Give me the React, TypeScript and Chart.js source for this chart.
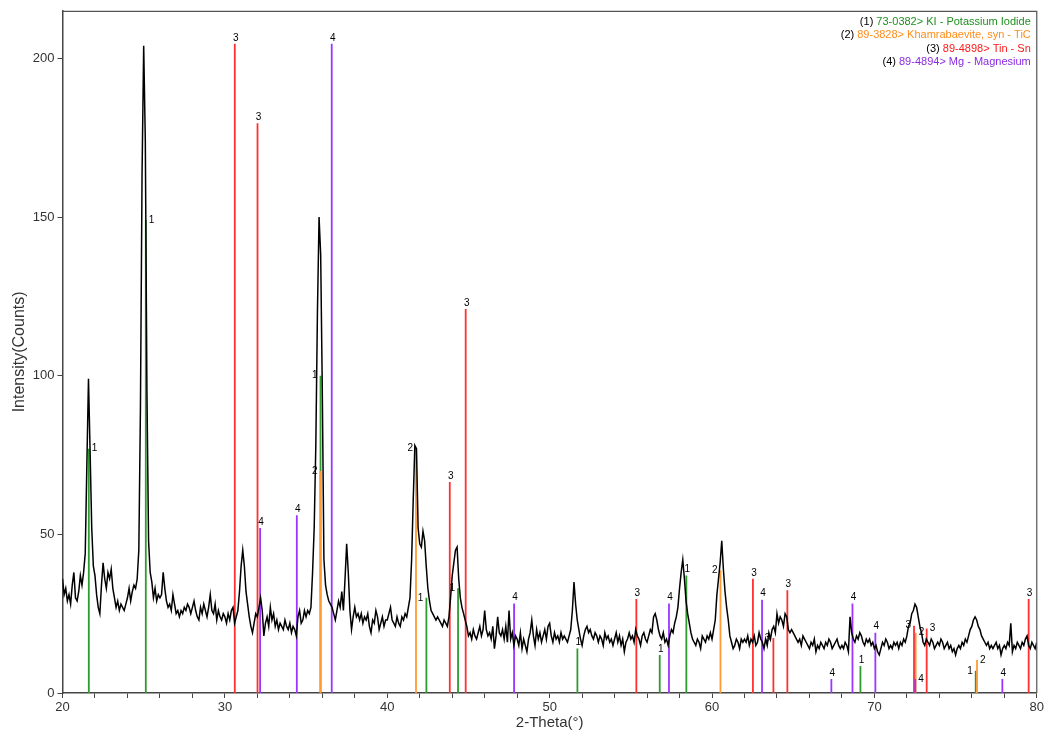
import React, { useEffect, useRef } from "react";
import { Chart, registerables } from "chart.js";

Chart.register(...registerables);

// ---- Diffraction profile (2-Theta from 20 to 80, step 0.1) ----
const startAngle = 20;
const stepAngle = 0.1;
const intensity: number[] = [
  36, 31, 33, 29, 31, 28, 34, 38, 30, 29,
  32, 37, 34, 38, 44, 72, 99, 76, 52, 40,
  37, 31, 27, 25, 34, 41, 36, 33, 38, 36,
  39, 33, 30, 27, 29, 26, 28, 27, 26, 28,
  30, 33, 29, 32, 34, 33, 36, 45, 90, 164,
  204, 174, 95, 48, 38, 35, 30, 33, 29, 31,
  30, 31, 38, 33, 29, 27, 28, 26, 31, 28,
  25, 26, 24, 26, 25, 27, 26, 28, 27, 25,
  27, 29, 26, 24, 23, 27, 25, 28, 26, 24,
  27, 31, 26, 25, 28, 23, 26, 24, 23, 25,
  24, 22, 25, 23, 26, 27, 22, 24, 26, 32,
  40, 45, 40, 32, 28, 24, 21, 19, 22, 25,
  24, 27, 30, 26, 18, 22, 24, 21, 27, 23,
  25, 21, 23, 20, 22, 21, 20, 23, 21, 20,
  22, 19, 21, 20, 18, 24, 26, 22, 23, 26,
  24, 26, 25, 27, 38, 52, 78, 120, 150, 138,
  95, 42, 34, 31, 29, 28, 27, 25, 23, 26,
  29, 27, 32, 26, 36, 47, 38, 26, 20, 24,
  27, 24, 25, 23, 25, 22, 24, 23, 25, 21,
  19, 23, 22, 26, 24, 20, 22, 24, 21, 23,
  23, 25, 27, 23, 22, 21, 24, 22, 21, 24,
  23, 25, 24, 27, 30, 42, 61, 78, 77, 52,
  47, 46, 51, 48, 40, 33, 29, 26, 25, 24,
  23, 24, 23, 22, 21, 23, 22, 21, 24, 30,
  37, 41, 45, 46, 36, 30, 27, 25, 23, 21,
  18, 19, 17, 20, 18, 17, 19, 21, 18, 20,
  26, 20, 18, 19, 17, 21, 14, 18, 24, 19,
  18, 20, 17, 21, 16, 26, 17, 19, 15, 18,
  17, 15, 19, 14, 17, 15, 13, 17, 19, 23,
  18, 15, 20, 17, 19, 16, 18, 20, 17, 21,
  22, 18, 16, 19, 17, 18, 16, 19, 17, 18,
  17, 16, 18, 20, 26, 35, 28, 23, 20, 17,
  15, 18, 20, 21, 19, 20, 18, 17, 19, 18,
  16, 18, 17, 15, 19, 17, 18, 16, 17, 15,
  17, 19, 16, 18, 15, 17, 13, 16, 17, 19,
  17, 18, 16, 20, 18, 17, 15, 18, 19, 17,
  16, 18, 20, 19, 24, 25, 23, 20, 18, 17,
  19, 16, 17, 15, 18, 20, 19, 22, 24, 27,
  33, 38, 42, 36, 29, 25, 22, 19, 17, 16,
  15, 17, 16, 14, 18, 17, 16, 18, 17, 19,
  17, 20, 23, 31, 36, 41, 48, 39, 32, 27,
  23, 18, 16, 14, 15, 17, 16, 14, 17, 16,
  17, 16, 18, 15, 17, 16, 18, 15, 16, 19,
  17, 16, 14, 17, 15, 19, 17, 20, 21, 19,
  25, 22, 24, 23, 21, 25, 24, 20, 19, 20,
  19, 18, 17, 16, 17, 15, 18, 17, 16, 15,
  14, 16, 15, 17, 13, 15, 14, 16, 15, 14,
  16, 15, 17, 16, 14, 15, 16, 17, 15, 14,
  15, 14, 16, 15, 13, 24, 19, 17, 16, 18,
  17, 19, 18, 16, 15, 17, 16, 17, 15, 16,
  14, 15, 13, 12, 14, 16, 15, 17, 16, 14,
  15, 14, 16, 15, 16, 14, 16, 15, 17, 16,
  18, 21, 22, 25, 26, 28, 27, 24, 21, 19,
  16, 15, 17, 16, 15, 17, 16, 14, 15, 16,
  15, 17, 16, 14, 15, 16, 14, 15, 13, 14,
  12, 14, 15, 14, 16, 15, 17, 16, 18, 20,
  21, 23, 24, 23, 21, 20, 18, 17, 16, 15,
  16, 14, 15, 14, 15, 16, 14, 15, 12, 14,
  15, 14, 16, 15, 22, 13, 15, 14, 16, 15,
  14, 16, 15, 17, 18, 15, 14, 16, 15, 14,
  16,
];

// ---- Reference patterns (stick positions, heights, label side) ----
const kiPos = [21.62, 25.13, 35.89, 42.41, 44.36, 51.71, 56.78, 58.42, 69.14, 76.24];
const kiHeight = [77, 149, 100, 30, 33, 14, 12, 37, 8.5, 7];
const kiSide = ["r", "r", "l", "l", "l", "t", "t", "t", "t", "l"];

const ticPos = [35.89, 41.77, 60.52, 72.54, 76.32];
const ticHeight = [70, 77, 38.7, 19, 10.4];
const ticSide = ["l", "l", "l", "r", "r"];

const snPos = [30.61, 32.01, 43.85, 44.83, 55.34, 62.52, 63.78, 64.64, 72.44, 73.22, 79.5];
const snHeight = [204.6, 179.6, 66.5, 121, 29.6, 36, 17.3, 32.4, 21.2, 20.3, 29.6];
const snSide = ["t", "t", "t", "t", "t", "t", "l", "t", "l", "r", "t"];

const mgPos = [32.17, 34.43, 36.58, 47.81, 57.35, 63.08, 67.35, 68.65, 70.06, 72.52, 77.88];
const mgHeight = [52, 56, 204.6, 28.2, 28.2, 29.4, 4.4, 28.2, 19, 4.4, 4.4];
const mgSide = ["t", "t", "t", "t", "t", "t", "t", "t", "t", "r", "t"];

const phaseNumbers = ["(1) ", "(2) ", "(3) ", "(4) "];
const phaseTitles = [
  "73-0382> KI - Potassium Iodide",
  "89-3828> Khamrabaevite, syn - TiC",
  "89-4898> Tin - Sn",
  "89-4894> Mg - Magnesium",
];
const phaseLabels = ["1", "2", "3", "4"];
const phaseColors = ["#2f9a2f", "#ff9a33", "#ff3030", "#9b35ff"];
const legendColors = ["#1f8f1f", "#ff8c1a", "#ff1a1a", "#8a2be2"];

const xTickStep = 2;
const xLabelEvery = 10;
const yTickStep = 50;

const phases = [
  { pos: kiPos, h: kiHeight, side: kiSide },
  { pos: ticPos, h: ticHeight, side: ticSide },
  { pos: snPos, h: snHeight, side: snSide },
  { pos: mgPos, h: mgHeight, side: mgSide },
];

function stickData(pos: number[], h: number[]) {
  const out: { x: number; y: number | null }[] = [];
  pos.forEach((p, i) => {
    out.push({ x: p, y: 0 });
    out.push({ x: p, y: h[i] });
    out.push({ x: p, y: null });
  });
  return out;
}

const FONT = '"Liberation Sans", Arial, sans-serif';

const framePlugin = {
  id: "frame",
  afterDraw(chart: any) {
    const { ctx, chartArea } = chart;
    ctx.save();
    ctx.strokeStyle = "#555";
    ctx.lineWidth = 1.2;
    ctx.beginPath();
    ctx.moveTo(chartArea.left, chartArea.top + 0.5);
    ctx.lineTo(chartArea.right, chartArea.top + 0.5);
    ctx.lineTo(chartArea.right, chartArea.bottom);
    ctx.stroke();
    ctx.restore();
  },
};

const stickLabelPlugin = {
  id: "stickLabels",
  afterDatasetsDraw(chart: any) {
    const { ctx } = chart;
    const xs = chart.scales.x;
    const ys = chart.scales.y;
    ctx.save();
    ctx.fillStyle = "#000";
    ctx.font = `10px ${FONT}`;
    phases.forEach((ph, pi) => {
      ph.pos.forEach((p, i) => {
        const px = xs.getPixelForValue(p);
        const py = ys.getPixelForValue(ph.h[i]);
        const s = ph.side[i];
        if (s === "t") {
          ctx.textAlign = "center";
          ctx.textBaseline = "bottom";
          ctx.fillText(phaseLabels[pi], px + 1, py - 1);
        } else if (s === "l") {
          ctx.textAlign = "right";
          ctx.textBaseline = "middle";
          ctx.fillText(phaseLabels[pi], px - 3, py);
        } else {
          ctx.textAlign = "left";
          ctx.textBaseline = "middle";
          ctx.fillText(phaseLabels[pi], px + 3, py);
        }
      });
    });
    ctx.restore();
  },
};

const legendPlugin = {
  id: "phaseLegend",
  afterDraw(chart: any) {
    const { ctx, chartArea } = chart;
    ctx.save();
    ctx.font = `11px ${FONT}`;
    ctx.textBaseline = "middle";
    ctx.textAlign = "right";
    const xr = chartArea.right - 6;
    phaseTitles.forEach((t, i) => {
      const y = chartArea.top + 11 + i * 13.5;
      ctx.fillStyle = legendColors[i];
      ctx.fillText(t, xr, y);
      const w = ctx.measureText(t).width;
      ctx.fillStyle = "#000";
      ctx.fillText(phaseNumbers[i], xr - w, y);
    });
    ctx.restore();
  },
};

export default function App() {
  const ref = useRef<HTMLCanvasElement | null>(null);

  useEffect(() => {
    if (!ref.current) return;
    const profile = intensity.map((v, i) => ({
      x: +(startAngle + i * stepAngle).toFixed(2),
      y: v,
    }));
    const datasets: any[] = [
      {
        label: "profile",
        data: profile,
        borderColor: "#000",
        borderWidth: 1.5,
        pointRadius: 0,
        tension: 0,
        order: 0,
      },
    ];
    phases.forEach((ph, i) => {
      datasets.push({
        label: phaseTitles[i],
        data: stickData(ph.pos, ph.h),
        borderColor: phaseColors[i],
        borderWidth: 1.8,
        pointRadius: 0,
        spanGaps: false,
        order: 4 - i,
      });
    });

    const chart = new Chart(ref.current, {
      type: "line",
      data: { datasets },
      plugins: [framePlugin, stickLabelPlugin, legendPlugin],
      options: {
        animation: false,
        responsive: false,
        layout: { padding: { left: 0, right: 9, top: 10, bottom: 0 } },
        plugins: { legend: { display: false }, tooltip: { enabled: false } },
        scales: {
          x: {
            type: "linear",
            min: 20,
            max: 80,
            afterFit(s: any) {
              s.height = 41;
            },
            ticks: {
              stepSize: xTickStep,
              autoSkip: false,
              maxRotation: 0,
              padding: 2,
              color: "#333",
              font: { family: FONT, size: 13 },
              callback: (v: any) =>
                Math.abs(Number(v) % xLabelEvery) < 1e-6 ? String(v) : "",
            },
            grid: {
              display: true,
              drawOnChartArea: false,
              drawTicks: true,
              tickLength: 5,
              color: "#444",
            },
            border: { display: true, color: "#444", width: 1.5 },
            title: {
              display: true,
              text: "2-Theta(°)",
              color: "#333",
              font: { family: FONT, size: 15 },
              padding: { top: 0, bottom: 2.5 },
            },
          },
          y: {
            type: "linear",
            min: 0,
            max: 215,
            afterFit(s: any) {
              s.width = 62.5;
            },
            afterBuildTicks(s: any) {
              s.ticks = s.ticks.filter((t: any) => Math.abs(t.value % yTickStep) < 1e-6);
            },
            ticks: {
              stepSize: yTickStep,
              padding: 3,
              color: "#333",
              font: { family: FONT, size: 13 },
            },
            grid: {
              display: true,
              drawOnChartArea: false,
              drawTicks: true,
              tickLength: 5,
              color: "#444",
            },
            border: { display: true, color: "#444", width: 1.5 },
            title: {
              display: true,
              text: "Intensity(Counts)",
              color: "#333",
              font: { family: FONT, size: 16 },
              padding: { top: 10, bottom: 0 },
            },
          },
        },
      },
    });
    return () => chart.destroy();
  }, []);

  return (
    <div
      style={{
        position: "fixed",
        left: 0,
        top: 0,
        width: 1046,
        height: 734,
        background: "#fff",
      }}
    >
      <canvas ref={ref} width={1046} height={734} />
    </div>
  );
}
